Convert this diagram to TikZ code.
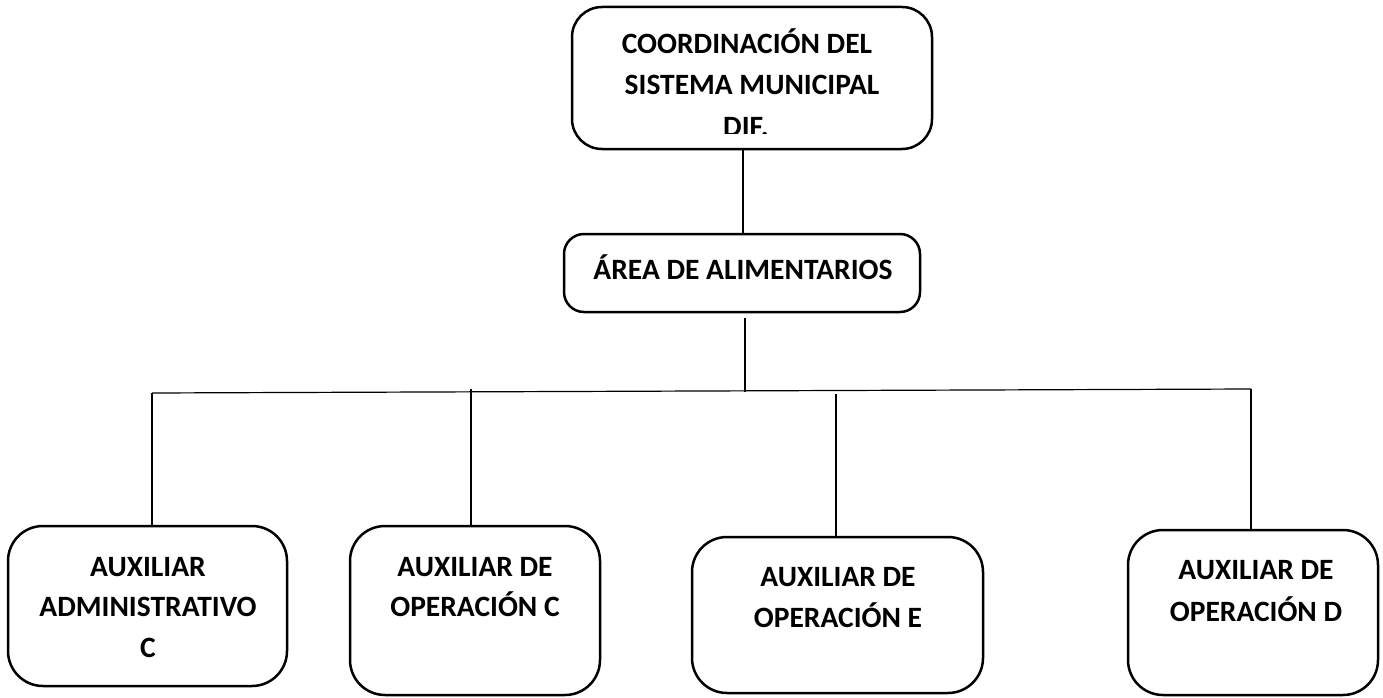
\documentclass[tikz,border=0pt]{standalone}
\usepackage{fontspec}
\setmainfont{Carlito}
\begin{document}
\begin{tikzpicture}[x=1pt,y=-1pt,
  box/.style={draw=black,line width=2.5pt,rounded corners=#1,inner sep=0pt,outer sep=0pt},
  box/.default=30pt,
  txt/.style={anchor=base,inner sep=0pt,font=\fontsize{29.5}{41}\selectfont\bfseries},
  conn/.style={draw=black,line width=1.2pt}]
\useasboundingbox (0,0) rectangle (1383,698);
% boxes
\node[box=30pt,minimum width=360pt,minimum height=142pt] (top) at (752,78) {};
\node[box=20pt,minimum width=356pt,minimum height=78pt] (area) at (742,273) {};
\node[box=35pt,minimum width=279pt,minimum height=160pt] (A) at (147.5,606) {};
\node[box=35pt,minimum width=250pt,minimum height=169pt] (B) at (475,610.5) {};
\node[box=35pt,minimum width=291pt,minimum height=156pt] (E) at (837.5,615) {};
\node[box=35pt,minimum width=250pt,minimum height=165pt] (D) at (1253,612.5) {};
% texts
\node[txt] (t1) at (747,54) {COORDINACIÓN DEL};
\node[txt] (t2) at (752,95) {SISTEMA MUNICIPAL};
\begin{scope}
\clip (600,100) rectangle (900,133);
\node[txt] (t3) at (746,136) {DIF.};
\end{scope}
\node[txt] (ta) at (743,279.5) {ÁREA DE ALIMENTARIOS};
\node[txt] (a1) at (148,576) {AUXILIAR};
\node[txt] (a2) at (148,616.5) {ADMINISTRATIVO};
\node[txt] (a3) at (148,657.5) {C};
\node[txt] (b1) at (475,576) {AUXILIAR DE};
\node[txt] (b2) at (475,616.5) {OPERACIÓN C};
\node[txt] (e1) at (838,586.5) {AUXILIAR DE};
\node[txt] (e2) at (838,627.5) {OPERACIÓN E};
\node[txt] (d1) at (1256,579.5) {AUXILIAR DE};
\node[txt] (d2) at (1256,621.5) {OPERACIÓN D};
% connectors
\coordinate (busL) at (152,393);
\coordinate (busR) at (1251,389);
\coordinate (busM) at (745,392);
\coordinate (bB) at (471,389);
\coordinate (bE) at (836,394);
\draw[conn] ([xshift=1pt]area.north |- top.south) -- ([xshift=1pt]area.north);
\draw[conn] ([xshift=3pt,yshift=-6pt]area.south) -- (busM);
\draw[conn] (busL) -- (busR);
\draw[conn] (busL) -- (busL |- A.north);
\draw[conn] (bB) -- (bB |- B.north);
\draw[conn] (bE) -- (bE |- E.north);
\draw[conn] (busR) -- (busR |- D.north);
\end{tikzpicture}
\end{document}
